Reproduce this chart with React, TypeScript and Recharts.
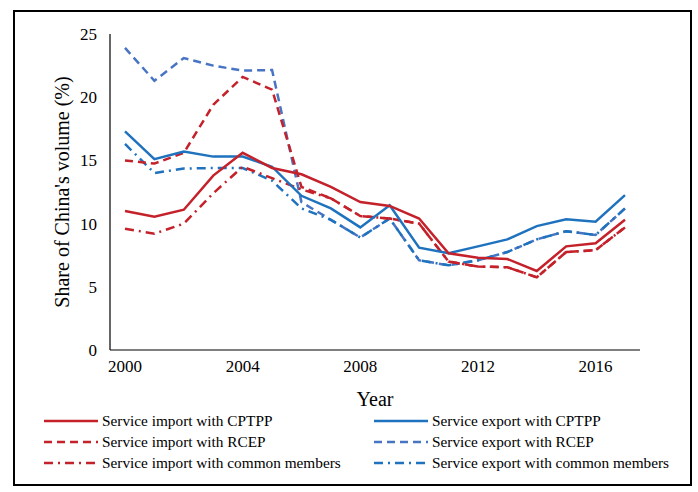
import React from 'react';
import { LineChart, Line, XAxis, YAxis, Label } from 'recharts';

const years = ['2000','2001','2002','2003','2004','2005','2006','2007','2008','2009','2010','2011','2012','2013','2014','2015','2016','2017'];
const importCPTPP = [11.0,10.55,11.1,13.8,15.6,14.4,13.9,12.9,11.7,11.4,10.4,7.65,7.3,7.2,6.25,8.2,8.45,10.3];
const exportCPTPP = [17.3,15.1,15.7,15.3,15.3,14.5,12.2,11.2,9.7,11.45,8.1,7.65,8.2,8.75,9.8,10.35,10.15,12.25];
const importRCEP = [15.0,14.75,15.6,19.4,21.6,20.6,12.9,12.0,10.6,10.4,10.0,7.0,6.6,6.55,5.75,7.75,7.9,9.7];
const exportRCEP = [23.9,21.3,23.1,22.5,22.1,22.15,11.7,10.3,8.9,10.4,7.1,6.7,7.1,7.75,8.75,9.4,9.1,11.2];
const importCommon = [9.6,9.2,10.0,12.4,14.5,13.6,12.7,12.0,10.6,10.4,10.0,7.0,6.6,6.55,5.75,7.75,7.9,9.7];
const exportCommon = [16.3,14.0,14.35,14.4,14.4,13.4,11.2,10.3,8.9,10.4,7.1,6.7,7.1,7.75,8.75,9.4,9.1,11.2];
const yTicks = [0, 5, 10, 15, 20, 25];

const RED = '#C4212B';
const BLUE = '#1F72BE';
const BLUE2 = '#4874C4';
const DASH = '8 5';
const DASHDOT = '9 5 2 5';
const FONT = '"Liberation Serif", "Times New Roman", serif';

const data = years.map((y, i) => ({
  year: y,
  iC: importCPTPP[i],
  eC: exportCPTPP[i],
  iR: importRCEP[i],
  eR: exportRCEP[i],
  iM: importCommon[i],
  eM: exportCommon[i],
}));

const legendItems = [
  { name: 'Service import with CPTPP', color: RED, dash: undefined, col: 0, row: 0 },
  { name: 'Service import with RCEP', color: RED, dash: DASH, col: 0, row: 1 },
  { name: 'Service import with common members', color: RED, dash: DASHDOT, col: 0, row: 2 },
  { name: 'Service export with CPTPP', color: BLUE, dash: undefined, col: 1, row: 0 },
  { name: 'Service export with RCEP', color: BLUE2, dash: DASH, col: 1, row: 1 },
  { name: 'Service export with common members', color: BLUE, dash: DASHDOT, col: 1, row: 2 },
];

export default function App() {
  return (
    <div style={{ position: 'absolute', left: 0, top: 0, width: 698, height: 492, background: '#fff', fontFamily: FONT }}>
      <div style={{ position: 'absolute', left: 13, top: 10, width: 679, height: 476, border: '2px solid #000', boxSizing: 'border-box' }} />
      <div style={{ position: 'absolute', left: 0, top: 0 }}>
        <LineChart width={698} height={492} data={data} margin={{ top: 34, right: 58, left: 0, bottom: 0 }}>
          <XAxis
            dataKey="year"
            interval={3}
            tickLine={false}
            axisLine={{ stroke: '#000', strokeWidth: 1.2 }}
            tick={{ fill: '#000', fontSize: 17, fontFamily: FONT }}
            tickMargin={4}
            height={142}
            padding={{ left: 15, right: 15 }}
          >
            <Label
              content={(p: any) => {
                const vb = p.viewBox || {};
                return (
                  <text x={vb.x + vb.width / 2} y={vb.y + 49} textAnchor="middle" dominantBaseline="central" fontSize={20} fontFamily={FONT} fill="#000">
                    Year
                  </text>
                );
              }}
            />
          </XAxis>
          <YAxis
            domain={[0, 25]}
            ticks={yTicks}
            width={110}
            tickLine={false}
            axisLine={{ stroke: '#000', strokeWidth: 1.2 }}
            tick={{ fill: '#000', fontSize: 17, fontFamily: FONT }}
            tickMargin={7}
          >
            <Label
              content={(p: any) => {
                const vb = p.viewBox || {};
                const cx = vb.x + 62;
                const cy = vb.y + vb.height / 2;
                return (
                  <text x={cx} y={cy} transform={`rotate(-90 ${cx} ${cy})`} textAnchor="middle" dominantBaseline="central" fontSize={20} fontFamily={FONT} fill="#000">
                    Share of China's volume (%)
                  </text>
                );
              }}
            />
          </YAxis>
          <Line dataKey="eR" stroke={BLUE2} strokeWidth={2.5} strokeDasharray={DASH} dot={false} isAnimationActive={false} />
          <Line dataKey="eM" stroke={BLUE} strokeWidth={2.5} strokeDasharray={DASHDOT} dot={false} isAnimationActive={false} />
          <Line dataKey="iM" stroke={RED} strokeWidth={2.5} strokeDasharray={DASHDOT} dot={false} isAnimationActive={false} />
          <Line dataKey="iR" stroke={RED} strokeWidth={2.5} strokeDasharray={DASH} dot={false} isAnimationActive={false} />
          <Line dataKey="eC" stroke={BLUE} strokeWidth={2.5} dot={false} isAnimationActive={false} />
          <Line dataKey="iC" stroke={RED} strokeWidth={2.5} dot={false} isAnimationActive={false} />
        </LineChart>
      </div>
      {legendItems.map((it) => {
        const lineX = it.col === 0 ? 44 : 374;
        const textX = it.col === 0 ? 102 : 432;
        const cy = 421 + it.row * 20.8;
        return (
          <React.Fragment key={it.name}>
            <svg style={{ position: 'absolute', left: lineX, top: cy - 3 }} width={54} height={6}>
              <line x1={0} y1={3} x2={54} y2={3} stroke={it.color} strokeWidth={2.5} strokeDasharray={it.dash} />
            </svg>
            <div style={{ position: 'absolute', left: textX, top: cy - 10, height: 20, lineHeight: '20px', fontSize: 15.3, fontFamily: FONT, color: '#000', whiteSpace: 'nowrap' }}>
              {it.name}
            </div>
          </React.Fragment>
        );
      })}
    </div>
  );
}
